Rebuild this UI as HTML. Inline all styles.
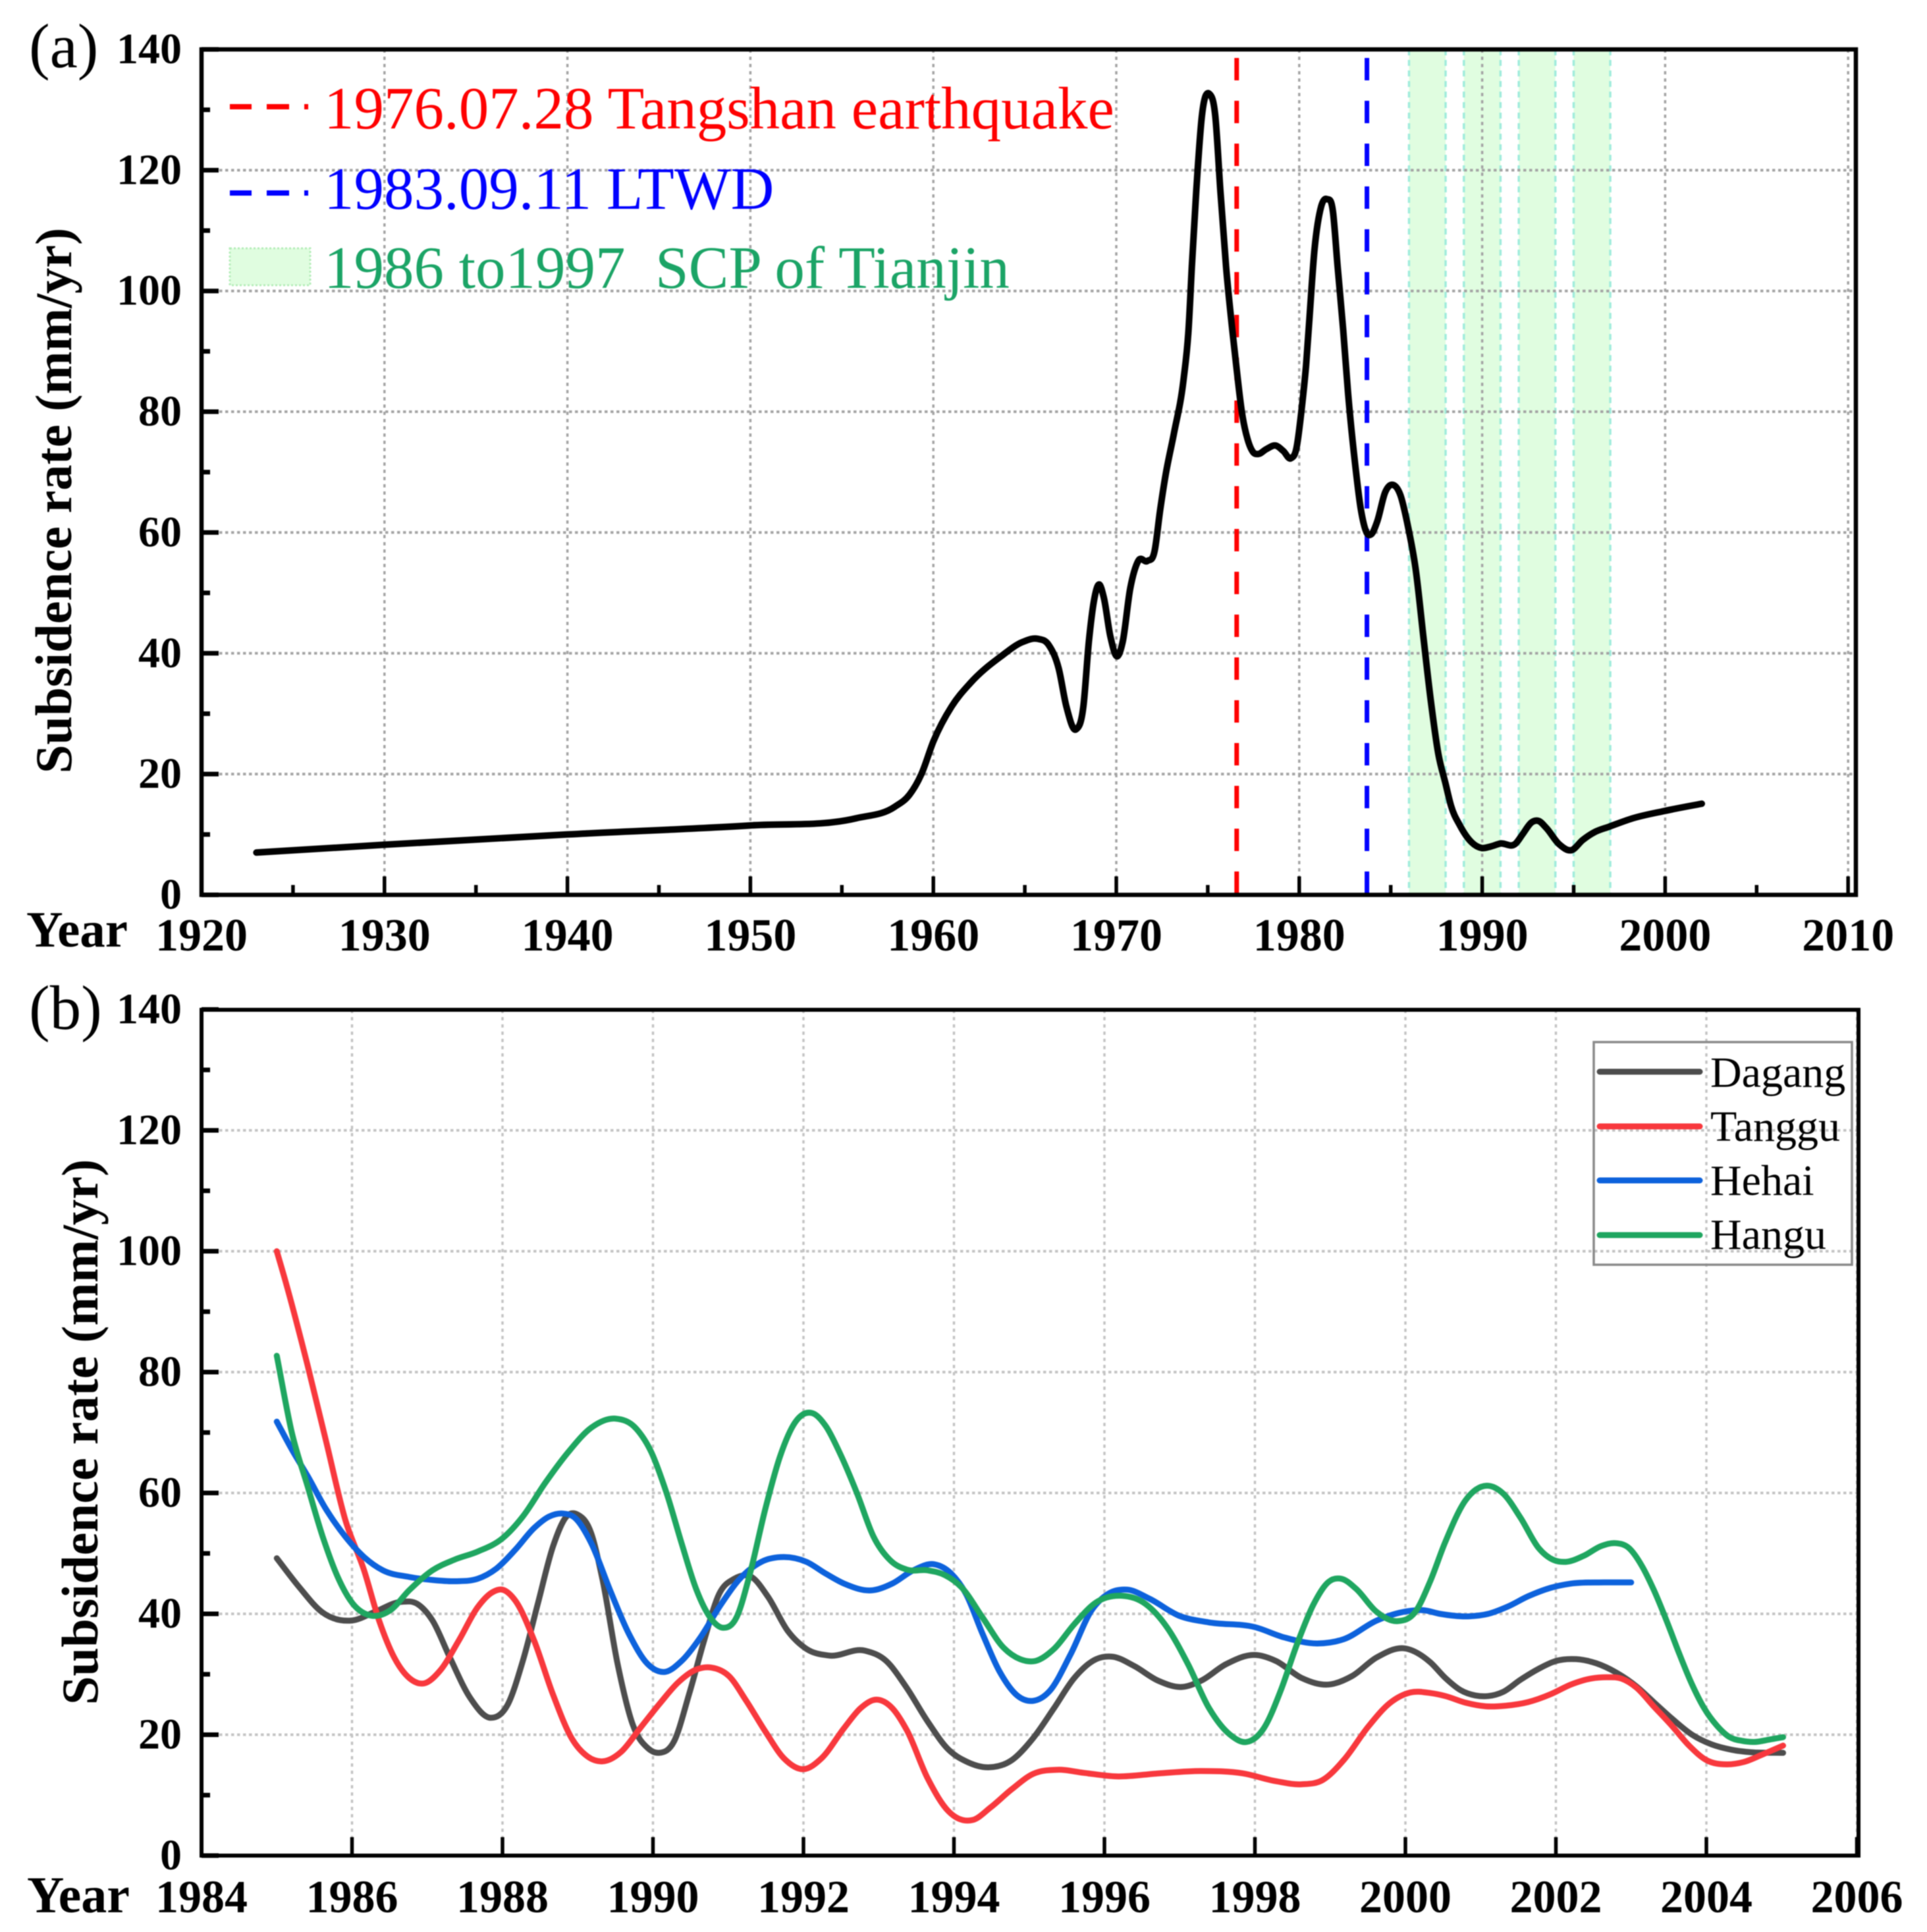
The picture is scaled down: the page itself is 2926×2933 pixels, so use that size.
<!DOCTYPE html>
<html lang="en">
<head>
<meta charset="utf-8">
<title>Subsidence rate charts</title>
<style>
html,body{margin:0;padding:0;background:#fff;}
svg{display:block;filter:blur(0.9px);}
text{font-family:"Liberation Serif","Times New Roman",serif;}
</style>
</head>
<body>
<svg id="figure" xmlns="http://www.w3.org/2000/svg" width="2926" height="2933" viewBox="0 0 2926 2933">
  <rect x="0" y="0" width="2926" height="2933" fill="#ffffff"/>
  <g id="panelA"></g>
  <g id="panelB"></g>

  <text x="44" y="102" font-size="95">(a)</text>
  <text x="44" y="1562" font-size="95">(b)</text>
  <text transform="translate(108,760) rotate(-90)" text-anchor="middle" font-size="78.5" font-weight="bold">Subsidence rate (mm/yr)</text>
  <text transform="translate(148,2174) rotate(-90)" text-anchor="middle" font-size="78.5" font-weight="bold">Subsidence rate (mm/yr)</text>
  <text x="40" y="1437" font-size="77" font-weight="bold">Year</text>
  <text x="41" y="2903" font-size="78" font-weight="bold">Year</text>

  <g>
    <line x1="349" y1="162" x2="471" y2="162" stroke="#ff0000" stroke-width="8" stroke-dasharray="33 23 34 23 6 30"/>
    <text x="492" y="195" font-size="91" fill="#ff0000">1976.07.28 Tangshan earthquake</text>
    <line x1="349" y1="293" x2="471" y2="293" stroke="#0000ff" stroke-width="8" stroke-dasharray="33 23 34 23 6 30"/>
    <text x="492" y="317" font-size="91" fill="#0000ff">1983.09.11 LTWD</text>
    <rect x="349" y="377" width="122" height="56" fill="#e0fde0" stroke="#b4ecb8" stroke-width="3" stroke-dasharray="3 3"/>
    <text x="492" y="437" font-size="91" fill="#1ba466" xml:space="preserve">1986 to1997  SCP of Tianjin</text>
  </g>

  <g>
    <rect x="2420" y="1582" width="392" height="338" fill="none" stroke="#8a8a8a" stroke-width="3.5"/>
    <line x1="2429" y1="1627" x2="2581" y2="1627" stroke="#4d4d4d" stroke-width="9" stroke-linecap="round"/>
    <text x="2597" y="1650" font-size="66">Dagang</text>
    <line x1="2429" y1="1710" x2="2581" y2="1710" stroke="#f8383d" stroke-width="9" stroke-linecap="round"/>
    <text x="2597" y="1732" font-size="66">Tanggu</text>
    <line x1="2429" y1="1792" x2="2581" y2="1792" stroke="#0d62dc" stroke-width="9" stroke-linecap="round"/>
    <text x="2597" y="1814" font-size="66">Hehai</text>
    <line x1="2429" y1="1875" x2="2581" y2="1875" stroke="#1fa660" stroke-width="9" stroke-linecap="round"/>
    <text x="2597" y="1896" font-size="66">Hangu</text>
  </g>
</svg>
<script>
// ---- Panel (a) data ----
var aYears = [1923,1930,1940,1950,1955.8,1957.9,1958.7,1959.35,1960,1961,1962,1963.7,1964.9,1965.7,1966.3,1966.85,1967.27,1967.8,1968.2,1968.5,1968.78,1969.05,1969.32,1969.67,1970.05,1970.35,1970.76,1971.2,1971.7,1972.1,1972.4,1972.7,1973.15,1973.67,1973.95,1974.13,1974.37,1974.68,1975.1,1975.41,1975.69,1976,1976.34,1976.57,1976.86,1977.17,1977.48,1977.75,1978.2,1978.72,1979.13,1979.55,1979.85,1980.15,1980.37,1980.56,1980.84,1981.2,1981.52,1981.84,1982.1,1982.4,1982.67,1983.06,1983.37,1983.68,1983.93,1984.26,1984.7,1985.12,1985.53,1985.95,1986.36,1986.78,1987.19,1987.6,1988,1988.3,1988.78,1989.42,1989.98,1990.45,1991,1991.83,1992.2,1992.7,1993.07,1993.5,1994.2,1994.87,1995.5,1996.15,1996.95,1998.2,1999.97,2002];
var aRate = [7,8.3,10,11.5,12.7,14.6,16.6,20,25.4,31.2,35,39.5,41.9,42.4,41.4,37.5,31.2,27.4,31.2,41.9,48.7,51.4,49.2,42.9,39.5,41.9,50.7,55.3,55.3,57,63.8,69.6,76.4,85.2,93.6,104,116.5,129,132.6,129,116.5,104,93.6,87.3,80,75.5,73.3,73,73.8,74.4,73.5,72.3,74,81,87.6,95.6,107,114,115.2,113.2,104,93.6,83,71.2,63.8,60,59.7,61.8,66.7,67.9,66.2,60.9,54,42.9,32.2,23.4,18.4,14.7,11.5,8.7,7.75,8,8.5,8.5,10,12,12.25,11.1,8.4,7.4,9.1,10.4,11.3,12.65,13.9,15.1];
var aXTicksMajor = [1920,1930,1940,1950,1960,1970,1980,1990,2000,2010];
var aXTicksMinor = [1925,1935,1945,1955,1965,1975,1985,1995,2005];
var yTicksMajor = [0,20,40,60,80,100,120,140];
var yTicksMinor = [10,30,50,70,90,110,130];
var shadeStarts = [1986,1989,1992,1995];
var shadeEnds = [1988,1991,1994,1997];
var eventYears = [1976.58,1983.7];
var eventColors = ['#ff0000','#0000ff'];
var eventNames = ['earthquake-line','ltwd-line'];

// ---- Panel (b) data ----
var bXTicks = [1984,1986,1988,1990,1992,1994,1996,1998,2000,2002,2004,2006];
var dagangYears = [1985,1985.3,1985.6,1986,1986.3,1986.66,1986.86,1987.07,1987.3,1987.57,1987.85,1988.07,1988.27,1988.47,1988.67,1988.85,1989,1989.18,1989.33,1989.53,1989.73,1989.93,1990.08,1990.28,1990.48,1990.68,1990.88,1991.08,1991.31,1991.53,1991.79,1992.04,1992.34,1992.82,1993.1,1993.37,1993.65,1993.93,1994.16,1994.46,1994.77,1995.05,1995.33,1995.6,1995.89,1996.11,1996.39,1996.72,1997.03,1997.28,1997.62,1998,1998.28,1998.62,1998.98,1999.29,1999.62,1999.98,2000.33,2000.53,2000.73,2000.93,2001.1,2001.3,2001.53,2001.77,2002,2002.27,2002.54,2002.8,2003.07,2003.3,2003.54,2003.81,2004.07,2004.34,2004.6,2005.02];
var dagangRate = [49.2,44.4,40.3,38.9,40.3,42,41.7,38.9,32.8,26.1,22.8,25,32.2,41.7,51.1,56.1,56.4,53.3,45.6,31.7,21.7,17.8,17,18.9,26.7,35.6,43.3,45.8,46.1,42.8,37.2,34.2,33.1,33.9,32.2,27.8,22.2,17.5,15.6,14.6,15.8,19.4,24.4,29.4,32.5,32.9,31.4,28.9,27.9,28.9,31.7,33.2,32.2,29.4,28.3,29.7,32.8,34.3,32,29.4,27.4,26.5,26.4,27.1,29.1,30.9,32.2,32.5,31.8,30.3,28,25.4,22.7,20,18.4,17.5,17.1,17];
var tangguYears = [1985,1985.13,1985.41,1985.66,1985.91,1986.16,1986.36,1986.56,1986.76,1986.96,1987.17,1987.42,1987.67,1987.87,1988,1988.17,1988.42,1988.67,1988.92,1989.13,1989.33,1989.58,1989.83,1990.08,1990.33,1990.58,1990.78,1991.01,1991.24,1991.49,1991.74,1992,1992.24,1992.54,1992.76,1992.97,1993.18,1993.38,1993.65,1993.93,1994.25,1994.49,1994.77,1995.05,1995.38,1995.72,1996.16,1996.72,1997.28,1997.84,1998.28,1998.62,1998.9,1999.18,1999.51,1999.79,2000.07,2000.33,2000.53,2000.8,2001.07,2001.33,2001.63,2001.93,2002.2,2002.47,2002.67,2002.87,2003.07,2003.3,2003.54,2003.77,2004,2004.27,2004.5,2004.74,2005.02];
var tangguRate = [100,94.4,81.1,68.3,55.6,47.2,38.9,32.8,29.4,28.5,30.6,35.6,41.1,43.6,44,42.2,35.6,26.7,19.4,16.4,15.6,17.2,21.1,25,28.6,30.8,31.1,29.7,25.6,20.6,16.1,14.3,16.1,21.1,24.4,25.8,24.4,20.6,12.8,7.3,5.9,8,11,13.5,14.2,13.7,13.1,13.6,14,13.6,12.3,11.8,12.5,15.8,21.4,25.2,27,26.9,26.4,25.3,24.7,24.8,25.4,26.7,28.3,29.3,29.5,29.3,27.8,24.7,21.5,18.2,15.8,15.1,15.5,16.7,18.2];
var hehaiYears = [1985,1985.2,1985.41,1985.66,1985.91,1986.16,1986.41,1986.76,1987.07,1987.37,1987.67,1987.92,1988.17,1988.42,1988.62,1988.8,1988.97,1989.18,1989.43,1989.68,1989.93,1990.16,1990.38,1990.63,1990.88,1991.14,1991.44,1991.74,1992.04,1992.29,1992.54,1992.92,1993.18,1993.46,1993.74,1993.96,1994.16,1994.38,1994.6,1994.85,1995.05,1995.27,1995.55,1995.83,1996.05,1996.3,1996.6,1996.99,1997.38,1998,1998.39,1998.83,1999.18,1999.62,2000.01,2000.24,2000.46,2000.85,2001.1,2001.36,2001.63,2001.93,2002.2,2002.64,2003];
var hehaiRate = [71.8,67.2,62.8,57.2,52.8,49.4,47.2,46.1,45.6,45.4,45.8,47.5,50.6,54.2,56.1,56.6,55.8,51.7,43.9,36.7,31.7,30.4,32.2,36.1,41.1,45.6,48.6,49.4,48.6,46.7,45,43.9,45,47.2,48.2,46.7,43.3,36.7,30.6,26.4,25.6,27.2,33.3,40.6,43.3,44,42.5,39.7,38.6,37.8,36.1,35.1,35.8,38.9,40.4,40.6,40,39.6,40,41.2,42.9,44.3,45,45.2,45.2];
var hanguYears = [1985,1985.2,1985.41,1985.61,1985.81,1986.01,1986.26,1986.51,1986.76,1987.07,1987.37,1987.67,1988,1988.27,1988.57,1988.87,1989.18,1989.5,1989.78,1989.98,1990.18,1990.38,1990.58,1990.76,1990.93,1991.11,1991.29,1991.49,1991.69,1991.89,1992.12,1992.3,1992.48,1992.71,1992.93,1993.15,1993.38,1993.65,1993.88,1994.1,1994.38,1994.66,1994.88,1995.08,1995.33,1995.6,1995.89,1996.22,1996.55,1996.83,1997.11,1997.39,1997.67,1997.89,1998.12,1998.34,1998.56,1998.78,1998.98,1999.15,1999.34,1999.62,1999.9,2000.13,2000.33,2000.53,2000.8,2001.08,2001.3,2001.53,2001.77,2001.97,2002.13,2002.37,2002.6,2002.79,2002.97,2003.14,2003.3,2003.47,2003.64,2003.81,2003.97,2004.14,2004.31,2004.47,2004.64,2004.84,2005.02];
var hanguRate = [82.7,70,61.1,52.8,46.1,41.7,39.7,40.6,43.9,47.2,49,50.3,52.5,56.1,61.7,66.7,70.8,72.3,70.6,66.7,60,51.7,43.9,39.4,37.7,39.4,46.7,57.2,66.1,71.7,73.2,71,66.7,60,52.8,48.9,47.3,47.2,46.4,44.4,39.4,34.4,32.5,32.2,34.2,38.3,41.9,43,41.6,37.8,31.7,24.4,20,18.8,21.1,27.2,35,41.6,45.3,45.8,44.2,40.3,38.8,40.3,45.4,51.9,58.8,61.2,59.9,55.9,50.9,48.9,48.6,49.6,51.2,51.7,50.9,48,44,38.9,33.4,28.3,24.4,21.5,19.6,19,18.8,19.2,19.6];

// ---- Layout ----
var NS = 'http://www.w3.org/2000/svg';
var A = {left:306, right:2818, top:75, bottom:1358.5, x0:1920, xPerYear:27.78, yPerUnit:9.168};
var B = {left:306, right:2822, top:1533, bottom:2817, x0:1984, xPerYear:228.5/2, yPerUnit:9.175};
function sx(P, yr){ return P.left + (yr - P.x0) * P.xPerYear; }
function sy(P, v){ return P.bottom - v * P.yPerUnit; }
function node(parent, tag, attrs, content){
  var el = document.createElementNS(NS, tag);
  for (var k in attrs) el.setAttribute(k, attrs[k]);
  if (content !== undefined) el.textContent = content;
  parent.appendChild(el);
  return el;
}
function curvePath(P, xs, ys){
  var px = xs.map(function(x){ return sx(P, x); });
  var py = ys.map(function(y){ return sy(P, y); });
  var n = px.length, m = [], i;
  for (i = 0; i < n; i++){
    if (i === 0) { m.push((py[1] - py[0]) / (px[1] - px[0])); continue; }
    if (i === n - 1) { m.push((py[i] - py[i-1]) / (px[i] - px[i-1])); continue; }
    var h0 = px[i] - px[i-1], h1 = px[i+1] - px[i];
    var s0 = (py[i] - py[i-1]) / h0, s1 = (py[i+1] - py[i]) / h1;
    m.push((h1 * s0 + h0 * s1) / (h0 + h1));
  }
  var d = 'M' + px[0].toFixed(1) + ' ' + py[0].toFixed(1);
  for (i = 0; i < n - 1; i++){
    var h = (px[i + 1] - px[i]) / 3;
    d += 'C' + (px[i] + h).toFixed(1) + ' ' + (py[i] + m[i] * h).toFixed(1) + ' ' +
         (px[i + 1] - h).toFixed(1) + ' ' + (py[i + 1] - m[i + 1] * h).toFixed(1) + ' ' +
         px[i + 1].toFixed(1) + ' ' + py[i + 1].toFixed(1);
  }
  return d;
}
function drawGrid(P, g, xs, color){
  xs.forEach(function(t){
    if (t === P.x0) return;
    var el = node(g, 'line', {x1:sx(P,t), x2:sx(P,t), y1:P.top, y2:P.bottom, stroke:color, 'stroke-width':3.5, 'stroke-dasharray':'5 6'});
    
    
  });
  yTicksMajor.forEach(function(t){
    if (t === 0 || t === 140) return;
    var el = node(g, 'line', {x1:P.left, x2:P.right, y1:sy(P,t), y2:sy(P,t), stroke:color, 'stroke-width':4, 'stroke-dasharray':'4.5 4.5'});
    
    
  });
}
function drawAxes(P, g, xMajor, xMinor, fs, baseline, frameW){
  var frame = node(g, 'rect', {x:P.left, y:P.top, width:P.right-P.left, height:P.bottom-P.top, fill:'none', stroke:'#000', 'stroke-width':frameW});
  
  
  xMajor.forEach(function(t){
    var x = sx(P, t);
    var el = node(g, 'line', {x1:x, x2:x, y1:P.bottom, y2:P.bottom-28, stroke:'#000', 'stroke-width':5.5});
    
    
    var lb = node(g, 'text', {x:x, y:baseline, 'text-anchor':'middle', 'font-size':fs, 'font-weight':'bold'}, String(t));
    
    
  });
  xMinor.forEach(function(t){
    var x = sx(P, t);
    var el = node(g, 'line', {x1:x, x2:x, y1:P.bottom, y2:P.bottom-15, stroke:'#000', 'stroke-width':5.5});
    
    
  });
  yTicksMajor.forEach(function(t){
    var y = sy(P, t);
    var el = node(g, 'line', {x1:P.left, x2:P.left+26, y1:y, y2:y, stroke:'#000', 'stroke-width':7});
    
    
    var lb = node(g, 'text', {x:276, y:y+21, 'text-anchor':'end', 'font-size':66, 'font-weight':'bold'}, String(t));
    
    
  });
  yTicksMinor.forEach(function(t){
    var y = sy(P, t);
    var el = node(g, 'line', {x1:P.left, x2:P.left+13, y1:y, y2:y, stroke:'#000', 'stroke-width':7});
    
    
  });
}

// ---- Panel (a) ----
var gA = document.getElementById('panelA');
shadeStarts.forEach(function(s, i){
  var x0 = sx(A, s), x1 = sx(A, shadeEnds[i]);
  var r = node(gA, 'rect', {x:x0, y:A.top, width:x1-x0, height:A.bottom-A.top, fill:'#e0fde0'});
  
  
  [x0, x1].forEach(function(x){
    var e = node(gA, 'line', {x1:x, x2:x, y1:A.top, y2:A.bottom, stroke:'#a0ecdc', 'stroke-width':3.5, 'stroke-dasharray':'9 7'});
    
    
  });
});
drawGrid(A, gA, aXTicksMajor, '#a4a4a4');
eventYears.forEach(function(yr, i){
  var x = sx(A, yr);
  var v = node(gA, 'line', {x1:x, x2:x, y1:88, y2:A.bottom, stroke:eventColors[i], 'stroke-width':7, 'stroke-dasharray':'34 31'});
  
  
});
var curveA = node(gA, 'path', {d:curvePath(A, aYears, aRate), fill:'none', stroke:'#000', 'stroke-width':10, 'stroke-linecap':'round', 'stroke-linejoin':'round'});


drawAxes(A, gA, aXTicksMajor, aXTicksMinor, 70, 1443, 6.5);

// ---- Panel (b) ----
var gB = document.getElementById('panelB');
drawGrid(B, gB, bXTicks, '#c4c4c4');
var lineD = node(gB, 'path', {d:curvePath(B, dagangYears, dagangRate), fill:'none', stroke:'#4d4d4d', 'stroke-width':9, 'stroke-linecap':'round', 'stroke-linejoin':'round'});


var lineT = node(gB, 'path', {d:curvePath(B, tangguYears, tangguRate), fill:'none', stroke:'#f8383d', 'stroke-width':9, 'stroke-linecap':'round', 'stroke-linejoin':'round'});


var lineH = node(gB, 'path', {d:curvePath(B, hehaiYears, hehaiRate), fill:'none', stroke:'#0d62dc', 'stroke-width':9, 'stroke-linecap':'round', 'stroke-linejoin':'round'});


var lineG = node(gB, 'path', {d:curvePath(B, hanguYears, hanguRate), fill:'none', stroke:'#1fa660', 'stroke-width':9, 'stroke-linecap':'round', 'stroke-linejoin':'round'});


drawAxes(B, gB, bXTicks, [], 70, 2903, 6);
</script>
</body>
</html>
